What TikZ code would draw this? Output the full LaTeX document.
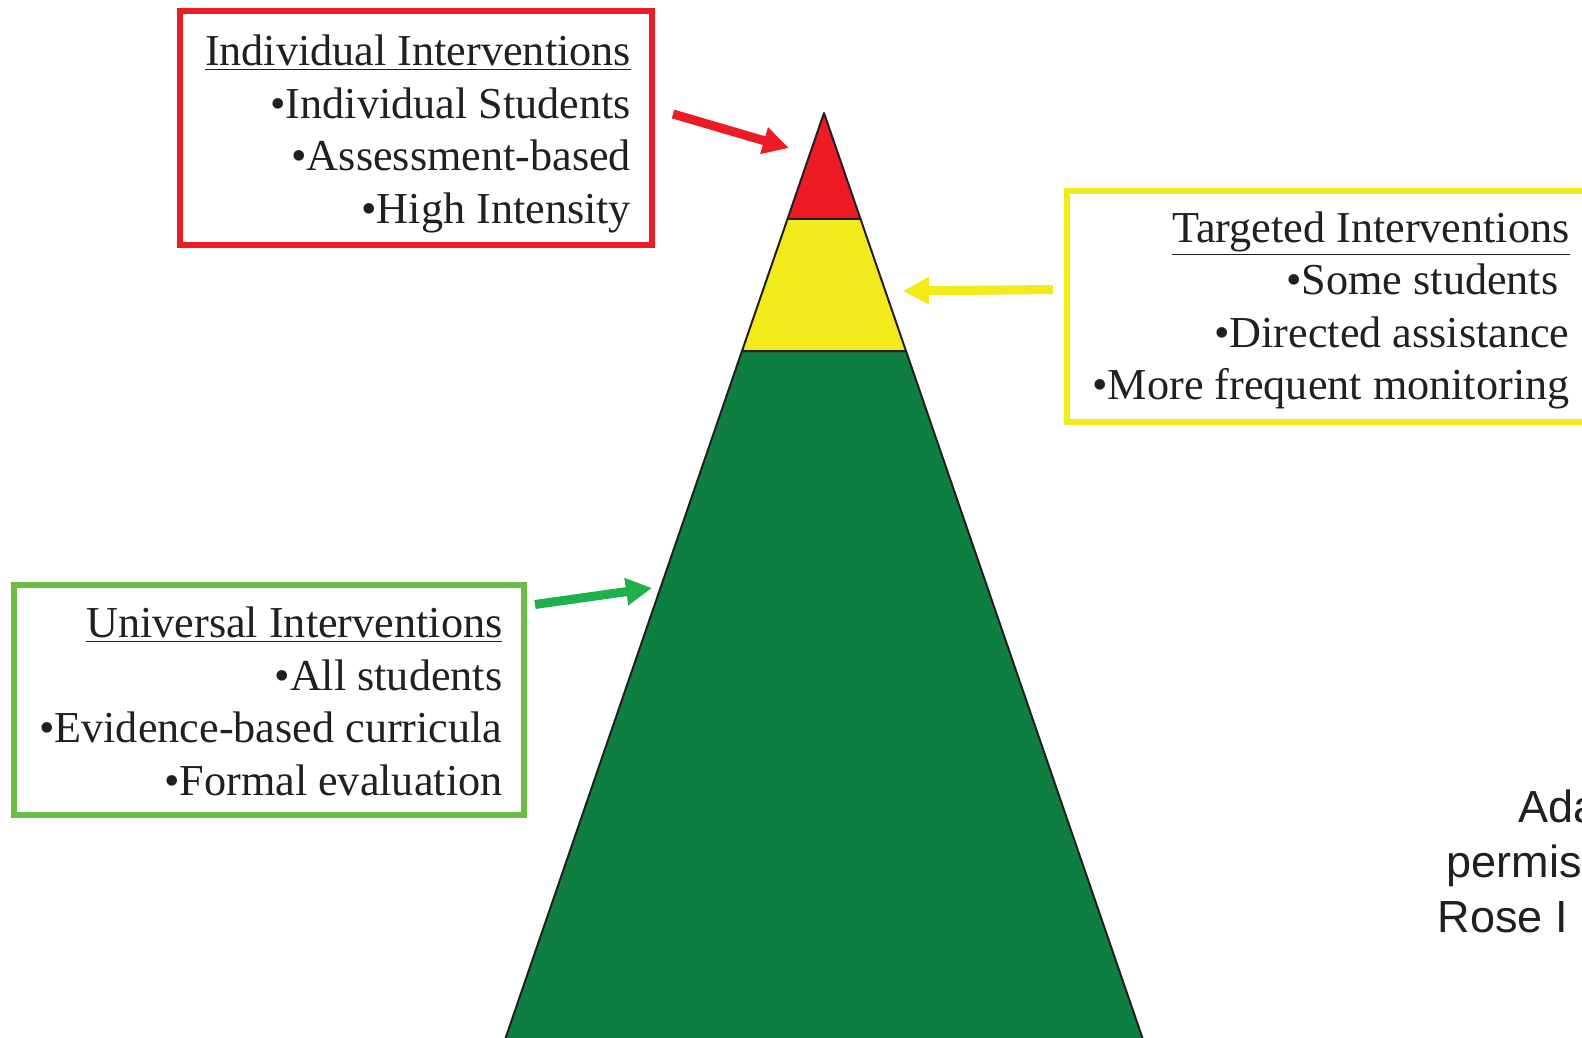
\documentclass[tikz,border=0pt]{standalone}
\usepackage{fontspec}
\setmainfont{Liberation Serif}
\newfontfamily\notefont{Liberation Sans}
\usetikzlibrary{arrows.meta, positioning}

\definecolor{tierred}{HTML}{ED1C24}
\definecolor{tieryellow}{HTML}{F2EA1A}
\definecolor{tiergreen}{HTML}{0E7F41}
\definecolor{boxgreen}{HTML}{6ABD45}
\definecolor{arrowgreen}{HTML}{1DB04B}
\definecolor{inkgray}{HTML}{231F20}

\tikzset{
    tierframe/.style={draw, line width=3pt, minimum width=#1, inner sep=0pt},
    tiertext/.style={align=right, inner sep=0pt, text=inkgray,
        font=\fontsize{22.1}{26.25}\selectfont},
    tierarrow/.style={line width=4.5pt, -{Triangle[length=13pt, width=13pt]}},
    tierpart/.style={draw=inkgray, line width=1pt, line join=round},
    notetext/.style={anchor=base west, inner sep=0pt, text=inkgray,
        font=\notefont\fontsize{22.5}{27.5}\selectfont},
}

\begin{document}
\begin{tikzpicture}[x=0.5pt, y=-0.5pt]

        \clip (0,0) rectangle (1582,1037);
        \fill[white] (0,0) rectangle (1582,1037);

        % pyramid
        \coordinate (apex) at (824,113);
        \coordinate (redleft) at (787.5,219);
        \coordinate (redright) at (860.5,219);
        \coordinate (yellowleft) at (742,351);
        \coordinate (yellowright) at (906,351);
        \coordinate (baseleft) at (498,1060);
        \coordinate (baseright) at (1150,1060);

        \filldraw[tierpart, fill=tiergreen] (yellowleft) -- (yellowright) -- (baseright) -- (baseleft) -- cycle;
        \filldraw[tierpart, fill=tieryellow] (redleft) -- (redright) -- (yellowright) -- (yellowleft) -- cycle;
        \filldraw[tierpart, fill=tierred] (apex) -- (redright) -- (redleft) -- cycle;

        % boxes
        \node[tierframe=236pt, draw=tierred, minimum height=117pt] (indivframe) at (416,128) {};
        \node[tierframe=264pt, draw=tieryellow, minimum height=115.5pt] (targframe) at (1331,306.5) {};
        \node[tierframe=254.75pt, draw=boxgreen, minimum height=115pt] (univframe) at (268.75,699.5) {};

        \node[tiertext, xshift=1pt, yshift=-3pt] (indiv) at (indivframe)
            {\underline{Individual Interventions}\\ •Individual Students\\ •Assessment-based\\ •High Intensity};
        \node[tiertext, xshift=0pt, yshift=-2pt] (targ) at (targframe)
            {\underline{Targeted Interventions}\\ •Some students\hbox to 0.25em{}\\ •Directed assistance\\ •More frequent monitoring};
        \node[tiertext, xshift=1pt, yshift=-1pt] (univ) at (univframe)
            {\underline{Universal Interventions}\\ •All students\\ •Evidence-based curricula\\ •Formal evaluation};

        % arrows to pyramid
        \coordinate (indivtip) at (789,148);
        \coordinate (targtip) at (903,291);
        \coordinate (univtip) at (652,588);
        \draw[tierarrow, tierred] ([shift={(18,-14)}]indivframe.east) -- (indivtip);
        \draw[tierarrow, tieryellow] ([shift={(-11,-17)}]targframe.west) -- (targtip);
        \draw[tierarrow, arrowgreen] ([shift={(8.5,23)}]univframe.north east) -- (univtip);

        % note
        \node[notetext] (note1) at (1518.5,822) {Ada};
        \node[notetext] (note2) at (1446.5,877) {permis};
        \node[notetext] (note3) at (1437.5,932) {Rose I};

\end{tikzpicture}
\end{document}
